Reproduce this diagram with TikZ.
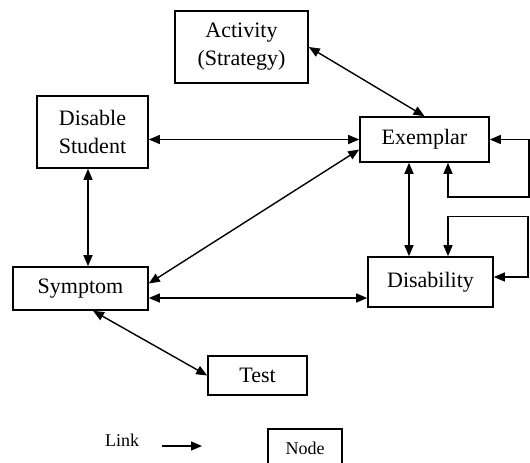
\documentclass[tikz,border=0pt]{standalone}
\usepackage{fontspec}
\setmainfont{Liberation Serif}
\usetikzlibrary{arrows.meta,calc}
\begin{document}
\begin{tikzpicture}[x=1pt,y=-1pt,
  box/.style={draw, line width=1.6pt, inner sep=0pt, align=center, font=\fontsize{22}{28}\selectfont},
  lbox/.style={draw, line width=1.6pt, inner sep=0pt, align=center, font=\fontsize{18}{22}\selectfont},
  link/.style={draw, line width=1.4pt, arrows={Triangle[length=11pt,width=9pt]-Triangle[length=11pt,width=9pt]}},
  onelink/.style={draw, line width=1.4pt, arrows={-Triangle[length=11pt,width=9pt]}}]
\useasboundingbox (0,0) rectangle (530,463);
\node[box, minimum width=133, minimum height=72] (A) at (241.5,47) {Activity\\(Strategy)};
\node[box, minimum width=111, minimum height=72] (D) at (92.5,132) {Disable\\Student};
\node[box, minimum width=129, minimum height=45] (E) at (424.5,139.5) {Exemplar};
\node[box, minimum width=125, minimum height=50] (Di) at (430.5,282) {Disability};
\node[box, minimum width=135, minimum height=43] (S) at (80.5,288.5) {Symptom};
\node[box, minimum width=99, minimum height=39] (T) at (257.5,375.5) {Test};
\node[lbox, minimum width=74, minimum height=38] (N) at (305,448) {Node};
\node[font=\fontsize{18}{22}\selectfont, inner sep=0pt] (L) at (122,440) {Link};
\coordinate (x88) at (88,0);
\coordinate (x409) at (409,0);
\coordinate (x448) at (448,0);
\coordinate (y298) at (0,298);
\coordinate (l1) at (162,446);
\coordinate (l2) at (202,446);
\path[link] (A.east) -- (E.north);
\path[link] (D.east |- E.west) -- (E.west);
\path[link] (D.south -| x88) -- (S.north -| x88);
\path[link] ([yshift=5pt]S.east) -- ([yshift=-10pt]E.west);
\path[link] (S.east |- y298) -- (Di.west |- y298);
\path[link] ([xshift=12.5pt]S.south) -- (T.west);
\path[link] (E.south -| x409) -- (Di.north -| x409);
\path[link] (E.east) -- ++(39,0) -- ++(0,57.5) -| (E.south -| x448);
\path[link] (Di.north -| x448) -- ++(0,-40) -- ++(80,0) |- ([yshift=5pt]Di.east);
\path[onelink] (l1) -- (l2);
\end{tikzpicture}
\end{document}
